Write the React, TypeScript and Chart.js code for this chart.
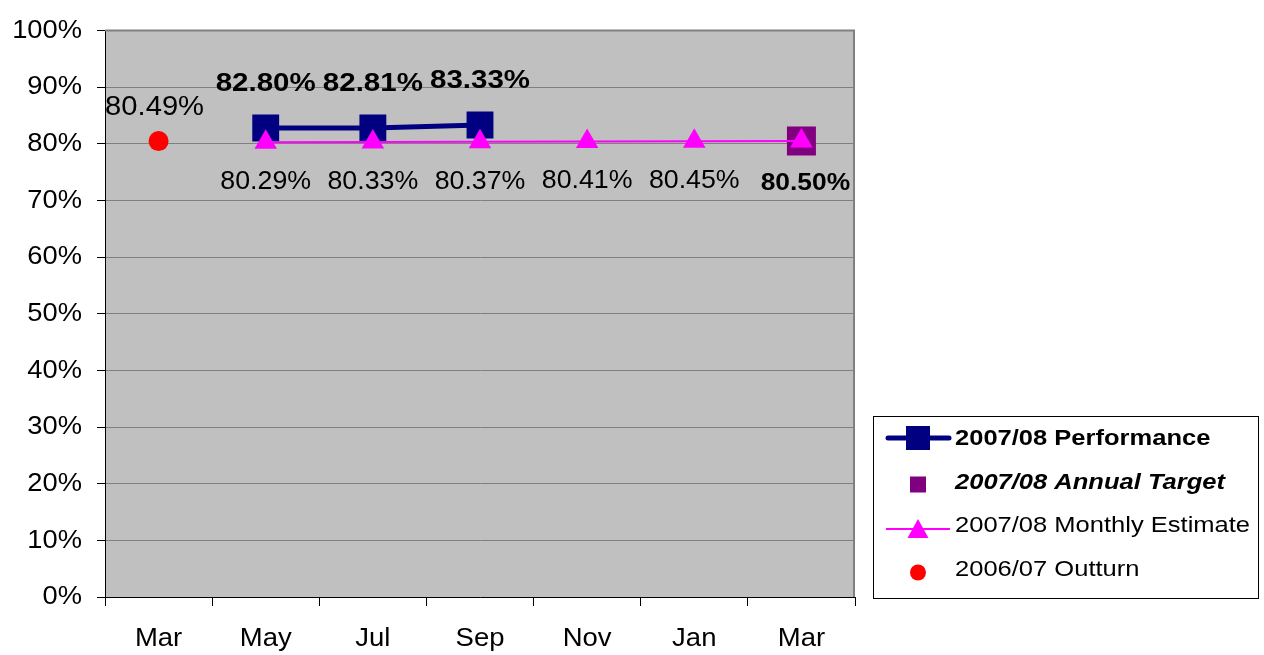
import React, { useEffect, useRef } from "react";
import { Chart, registerables, LinearScale, CategoryScale } from "chart.js";

Chart.register(...registerables);

// ---------------- data ----------------
const categories = ["Mar", "May", "Jul", "Sep", "Nov", "Jan", "Mar"];
const performance = [null, 82.8, 82.81, 83.33, null, null, null];
const annualTarget = [null, null, null, null, null, null, 80.5];
const monthlyEstimate = [null, 80.29, 80.33, 80.37, 80.41, 80.45, 80.5];
const outturn = [80.49, null, null, null, null, null, null];
const yTicks = [0, 10, 20, 30, 40, 50, 60, 70, 80, 90, 100];

const seriesNames = [
  "2007/08 Performance",
  "2007/08 Annual Target",
  "2007/08 Monthly Estimate",
  "2006/07 Outturn",
];

const FONT = "'Liberation Sans', Arial, Helvetica, sans-serif";

function drawText(
  ctx: CanvasRenderingContext2D,
  text: string,
  x: number,
  y: number,
  font: string,
  sx: number,
  align: CanvasTextAlign = "center",
  color = "#000"
) {
  ctx.save();
  ctx.translate(x, y);
  ctx.scale(sx, 1);
  ctx.font = font;
  ctx.textAlign = align;
  ctx.textBaseline = "middle";
  ctx.fillStyle = color;
  ctx.fillText(text, 0, 0);
  ctx.restore();
}

// y scale whose labels are slightly stretched horizontally (anchored at right edge)
class StretchLinear extends LinearScale {
  static id = "stretchLinear";
  drawLabels(area: any) {
    const ctx = (this as any).ctx as CanvasRenderingContext2D;
    const o: any = (this as any).options;
    const ax = (this as any).right - o.grid.tickLength - o.ticks.padding;
    ctx.save();
    ctx.translate(ax, 0);
    ctx.scale(1.05, 1);
    ctx.translate(-ax, 0);
    super.drawLabels(area);
    ctx.restore();
  }
}

// category scale whose labels are stretched horizontally around their centre
class StretchCategory extends CategoryScale {
  static id = "stretchCategory";
  drawLabels(area: any) {
    const self: any = this;
    const ctx = self.ctx as CanvasRenderingContext2D;
    const items = self.getLabelItems(area);
    for (const item of items) {
      const o = item.options;
      ctx.save();
      ctx.translate(o.translation[0], o.translation[1]);
      ctx.scale(1.1, 1);
      ctx.font = item.font.string;
      ctx.fillStyle = o.color;
      ctx.textAlign = o.textAlign;
      ctx.textBaseline = o.textBaseline;
      ctx.fillText(String(item.label), 0, item.textOffset);
      ctx.restore();
    }
  }
}

Chart.register(StretchLinear as any, StretchCategory as any);

const plotBg = {
  id: "plotBg",
  beforeDraw(chart: any) {
    const { ctx, chartArea: a } = chart;
    ctx.save();
    ctx.fillStyle = "#C0C0C0";
    ctx.fillRect(a.left, a.top, a.right - a.left, a.bottom - a.top);
    ctx.restore();
  },
  beforeDatasetsDraw(chart: any) {
    const { ctx, chartArea: a } = chart;
    ctx.save();
    ctx.strokeStyle = "#808080";
    ctx.lineWidth = 2;
    ctx.beginPath();
    ctx.moveTo(a.left, a.top);
    ctx.lineTo(a.right - 1, a.top);
    ctx.lineTo(a.right - 1, a.bottom);
    ctx.stroke();
    ctx.restore();
  },
};

const labelsPlugin = {
  id: "valueLabels",
  afterDatasetsDraw(chart: any) {
    const ctx = chart.ctx as CanvasRenderingContext2D;
    const fmt = (v: number) => v.toFixed(2) + "%";
    // performance (dataset 0): bold, above
    chart.getDatasetMeta(0).data.forEach((p: any, i: number) => {
      const v = performance[i];
      if (v == null) return;
      drawText(ctx, fmt(v), p.x, p.y - 44, `bold 25px ${FONT}`, 1.18);
    });
    // target (dataset 1): bold, below
    chart.getDatasetMeta(1).data.forEach((p: any, i: number) => {
      const v = annualTarget[i];
      if (v == null) return;
      drawText(ctx, fmt(v), p.x + 4, p.y + 42, `bold 24px ${FONT}`, 1.1);
    });
    // monthly estimate (dataset 2): regular, below (not where target sits)
    chart.getDatasetMeta(2).data.forEach((p: any, i: number) => {
      const v = monthlyEstimate[i];
      if (v == null || annualTarget[i] != null) return;
      drawText(ctx, fmt(v), p.x, p.y + 40, `25px ${FONT}`, 1.07);
    });
    // outturn (dataset 3): regular, above
    chart.getDatasetMeta(3).data.forEach((p: any, i: number) => {
      const v = outturn[i];
      if (v == null) return;
      drawText(ctx, fmt(v), p.x - 4, p.y - 34, `27px ${FONT}`, 1.08);
    });
  },
};

const legendPlugin = {
  id: "boxLegend",
  afterDraw(chart: any) {
    const ctx = chart.ctx as CanvasRenderingContext2D;
    ctx.save();
    ctx.strokeStyle = "#000";
    ctx.lineWidth = 1;
    ctx.strokeRect(873.5, 416.5, 385, 182);

    const sx = 918;
    const tx = 955;
    // row 1: performance
    ctx.strokeStyle = "#000080";
    ctx.lineWidth = 5;
    ctx.lineCap = "round";
    ctx.beginPath();
    ctx.moveTo(888, 438);
    ctx.lineTo(949, 438);
    ctx.stroke();
    ctx.fillStyle = "#000080";
    ctx.fillRect(sx - 12, 438 - 12, 24, 24);
    drawText(ctx, seriesNames[0], tx, 438.5, `bold 22px ${FONT}`, 1.16, "left");

    // row 2: target
    ctx.fillStyle = "#800080";
    ctx.fillRect(sx - 8, 484.5 - 8, 16, 16);
    drawText(ctx, seriesNames[1], tx, 483, `italic bold 22px ${FONT}`, 1.16, "left");

    // row 3: estimate
    ctx.strokeStyle = "#FF00FF";
    ctx.lineWidth = 2;
    ctx.lineCap = "butt";
    ctx.beginPath();
    ctx.moveTo(886, 529);
    ctx.lineTo(950, 529);
    ctx.stroke();
    ctx.fillStyle = "#FF00FF";
    ctx.beginPath();
    ctx.moveTo(sx, 519);
    ctx.lineTo(sx + 10.5, 538);
    ctx.lineTo(sx - 10.5, 538);
    ctx.closePath();
    ctx.fill();
    drawText(ctx, seriesNames[2], tx, 526, `22px ${FONT}`, 1.16, "left");

    // row 4: outturn
    ctx.fillStyle = "#FF0000";
    ctx.beginPath();
    ctx.arc(sx, 572.5, 8, 0, Math.PI * 2);
    ctx.fill();
    drawText(ctx, seriesNames[3], tx, 570, `22px ${FONT}`, 1.16, "left");
    ctx.restore();
  },
};

export default function App() {
  const canvasRef = useRef<HTMLCanvasElement | null>(null);

  useEffect(() => {
    if (!canvasRef.current) return;
    const chart = new Chart(canvasRef.current, {
      type: "line",
      data: {
        labels: categories,
        datasets: [
          {
            label: seriesNames[0],
            data: performance,
            borderColor: "#000080",
            backgroundColor: "#000080",
            borderWidth: 5,
            pointStyle: "rect",
            pointRadius: 19,
            pointHoverRadius: 19,
            pointBorderWidth: 0,
            pointBackgroundColor: "#000080",
            order: 1,
          },
          {
            label: seriesNames[1],
            data: annualTarget,
            showLine: false,
            pointStyle: "rect",
            pointRadius: 20.5,
            pointHoverRadius: 20.5,
            pointBorderWidth: 0,
            pointBackgroundColor: "#800080",
            borderColor: "#800080",
            backgroundColor: "#800080",
            order: 2,
          },
          {
            label: seriesNames[2],
            data: monthlyEstimate,
            borderColor: "#FF00FF",
            backgroundColor: "#FF00FF",
            borderWidth: 2,
            pointStyle: "triangle",
            pointRadius: 13,
            pointHoverRadius: 13,
            pointBorderWidth: 0,
            pointBackgroundColor: "#FF00FF",
            order: 0,
          },
          {
            label: seriesNames[3],
            data: outturn,
            showLine: false,
            pointStyle: "circle",
            pointRadius: 10,
            pointHoverRadius: 10,
            pointBorderWidth: 0,
            pointBackgroundColor: "#FF0000",
            borderColor: "#FF0000",
            backgroundColor: "#FF0000",
            order: 3,
          },
        ],
      },
      options: {
        animation: false,
        responsive: true,
        maintainAspectRatio: false,
        events: [],
        layout: { padding: { top: 27, right: 409, left: 0, bottom: 0 } },
        plugins: {
          legend: { display: false },
          tooltip: { enabled: false },
          title: { display: false },
        },
        scales: {
          x: {
            type: "stretchCategory" as any,
            offset: true,
            grid: {
              offset: true,
              drawOnChartArea: false,
              drawTicks: true,
              tickLength: 9,
              tickColor: "#000",
              tickWidth: 1,
            },
            border: { display: true, color: "#000", width: 1 },
            ticks: {
              color: "#000",
              font: { family: FONT, size: 25 },
              padding: 18,
              maxRotation: 0,
              autoSkip: false,
            },
            afterFit: (s: any) => {
              s.height = 58;
            },
          },
          y: {
            type: "stretchLinear" as any,
            min: 0,
            max: 100,
            afterBuildTicks: (s: any) => {
              s.ticks = yTicks.map((v) => ({ value: v }));
            },
            grid: {
              color: "#808080",
              lineWidth: 1,
              drawTicks: true,
              tickLength: 8,
              tickColor: "#000",
              tickWidth: 1,
            },
            border: { display: true, color: "#000", width: 1 },
            ticks: {
              color: "#000",
              font: { family: FONT, size: 26 },
              padding: 15,
              callback: (v: any) => v + "%",
            },
            afterFit: (s: any) => {
              s.width = 105;
            },
          },
        },
      },
      plugins: [plotBg, labelsPlugin, legendPlugin],
    });
    return () => chart.destroy();
  }, []);

  return (
    <div
      style={{
        position: "fixed",
        left: 0,
        top: 0,
        width: "1264px",
        height: "655px",
        background: "#fff",
      }}
    >
      <canvas ref={canvasRef} />
    </div>
  );
}
